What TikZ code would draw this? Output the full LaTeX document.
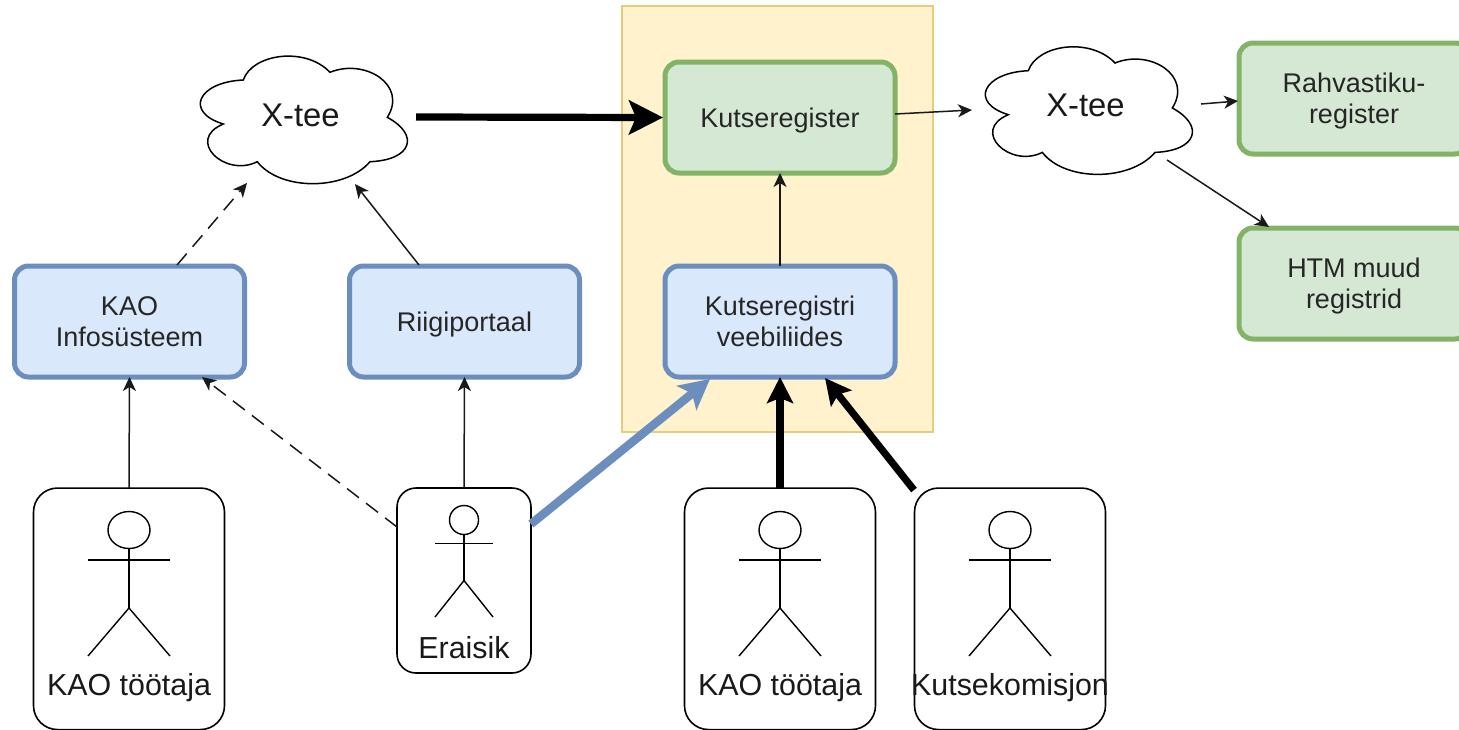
\documentclass[tikz,border=0pt]{standalone}
\usepackage{fontspec}
\setmainfont{Liberation Sans}
\usetikzlibrary{arrows.meta,calc}
\tikzset{
  x=1pt,y=-1pt,
  base/.style={rounded corners=14pt,outer sep=0pt,inner sep=0pt,text=black!85,font=\fontsize{27}{31}\selectfont},
  greenbox/.style={base,draw=green1,fill=green2,line width=5pt,minimum width=230pt,minimum height=111pt},
  bluebox/.style={base,draw=blue1,fill=blue2,line width=5pt,minimum width=230pt,minimum height=111pt},
  actorbox/.style={draw=black,fill=white,line width=1.6pt,rounded corners=24pt,outer sep=0pt,inner sep=0pt},
  actorline/.style={draw=black,line width=1.4pt},
  actorlabel/.style={inner sep=0pt,text=black!90,font=\fontsize{30.4}{34}\selectfont},
  cloudlabel/.style={inner sep=0pt,text=black!90,font=\fontsize{32.8}{36}\selectfont},
  thinarrow/.style={draw=black!90,line width=1.5pt,-{Stealth[length=14pt,width=13pt,inset=4pt]}},
  dasharrow/.style={thinarrow,dash pattern=on 15pt off 9pt},
  heavyarrow/.style={draw=black,line width=7.2pt,-{Stealth[length=26pt,width=26pt,inset=5pt]}},
  bigarrow/.style={draw=black,line width=7.2pt,-{Stealth[length=34pt,width=34pt,inset=7pt]}},
  bluearrow/.style={draw=blue1,line width=8.5pt,-{Stealth[length=30pt,width=31pt,inset=7pt]}},
  cloudline/.style={draw=black,fill=white,line width=1.5pt},
}
\definecolor{green1}{HTML}{82B366}
\definecolor{green2}{HTML}{D5E8D4}
\definecolor{blue1}{HTML}{6C8EBF}
\definecolor{blue2}{HTML}{DAE8FC}
\definecolor{yellow1}{HTML}{E8CC7A}
\definecolor{yellow2}{HTML}{FFF2CC}
\newcommand{\boxtext}[1]{\raisebox{-3.5pt}[\height][\depth]{\begin{tabular}{@{}c@{}}#1\end{tabular}}}
\newcommand{\cloudshape}[2]{%
  \draw[cloudline,shift={(#1,#2)}] (243.3,80)
    .. controls (252,54) and (305,46) .. (330,72.3)
    .. controls (365,58) and (408,85) .. (387.3,117.3)
    .. controls (420,135) and (412,160) .. (370,161.7)
    .. controls (345,191) and (280,191) .. (257.3,161.7)
    .. controls (225,178) and (185,140) .. (223.3,124)
    .. controls (184,112) and (198,82) .. (243.3,80) -- cycle;}
\newcommand{\actorfig}[7]{%
  \draw[actorline] (#1,#2) ellipse [x radius=#3,y radius=#4];
  \draw[actorline] (#1,#2+#4) -- (#1,#6);
  \draw[actorline] (#1-\actorspan,#5) -- (#1+\actorspan,#5);
  \draw[actorline] (#1-\actorspan,#7) -- (#1,#6) -- (#1+\actorspan,#7);}
\begin{document}
\begin{tikzpicture}
\clip (0,0) rectangle (1459,729);
\fill[white] (0,0) rectangle (1459,729);
% yellow zone
\node[draw=yellow1,fill=yellow2,line width=1.5pt,outer sep=0pt,inner sep=0pt,minimum width=311pt,minimum height=426pt] (zone) at (777.5,219) {};
% clouds
\cloudshape{0}{0}
\cloudshape{785}{-9.3}
\node[cloudlabel] (xteeA) at (300.5,115) {X-tee};
\node[cloudlabel] (xteeB) at (1085.5,105) {X-tee};
% boxes
\node[greenbox] (kreg) at (780,117.5) {\boxtext{Kutseregister}};
\node[greenbox] (rahv) at (1354,98.5) {\boxtext{Rahvastiku-\\register}};
\node[greenbox] (htm) at (1354,283.5) {\boxtext{HTM muud\\registrid}};
\node[bluebox] (kaois) at (129.5,321.5) {\boxtext{KAO\\Infosüsteem}};
\node[bluebox] (riigi) at (464.5,321.5) {\boxtext{Riigiportaal}};
\node[bluebox] (kveeb) at (780,321.5) {\boxtext{Kutseregistri\\veebiliides}};
% actor boxes
\node[actorbox,minimum width=191pt,minimum height=241.5pt] (aKao1) at (129,608.8) {};
\node[actorbox,rounded corners=19pt,minimum width=134pt,minimum height=185pt] (aEra) at (464,580.5) {};
\node[actorbox,minimum width=191pt,minimum height=241.5pt] (aKao2) at (780,608.8) {};
\node[actorbox,minimum width=191pt,minimum height=241.5pt] (aKom) at (1010,608.8) {};
% actors
\def\actorspan{41}
\actorfig{129}{530}{21}{18.5}{560}{608}{656}
\actorfig{780}{530}{21}{18.5}{560}{608}{656}
\actorfig{1010}{530}{21}{18.5}{560}{608}{656}
\def\actorspan{29}
\actorfig{464}{520}{14.5}{14.5}{543.5}{580.5}{617}
\node[actorlabel] (lKao1) at (129,688) {KAO töötaja};
\node[actorlabel] (lEra) at (464,648) {Eraisik};
\node[actorlabel] (lKao2) at (780,688) {KAO töötaja};
\node[actorlabel] (lKom) at (1010,688) {Kutsekomisjon};
% connectors
\draw[bigarrow] ($(xteeA)+(115.5,2)$) -- ($(kreg.west)+(-2,0)$);
\draw[thinarrow] ($(kreg.east)+(0,-3.5)$) -- ($(xteeB)+(-113.5,5)$);
\draw[thinarrow] ($(xteeB)+(115.5,-1)$) -- ($(rahv.west)+(-1,2.5)$);
\draw[thinarrow] ($(xteeB)+(81.5,55)$) -- ($(htm.north)+(-85,-1)$);
\draw[thinarrow] (kveeb.north) -- (kreg.south);
\draw[dasharrow] ($(kaois.north)+(47.5,-1)$) -- ($(xteeA)+(-53.5,68)$);
\draw[thinarrow] ($(riigi.north)+(-45.5,-1)$) -- ($(xteeA)+(54.5,69)$);
\draw[thinarrow] (aKao1.north) -- (kaois.south);
\draw[thinarrow] (aEra.north) -- (riigi.south);
\draw[dasharrow] ($(aEra.west)+(0,-53.5)$) -- ($(kaois.south)+(72.5,0)$);
\draw[bluearrow] ($(aEra.east)+(0,-56.5)$) -- ($(kveeb.south)+(-70,2)$);
\draw[heavyarrow] (aKao2.north) -- (kveeb.south);
\draw[heavyarrow] ($(aKom.north)+(-96,2)$) -- ($(kveeb.south)+(45,1)$);
\end{tikzpicture}
\end{document}
